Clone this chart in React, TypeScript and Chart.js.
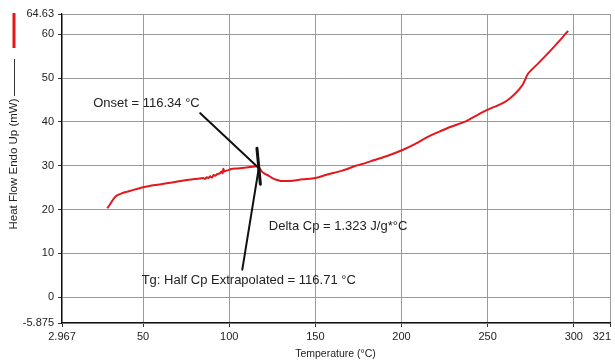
import React, { useEffect, useRef } from "react";
import { Chart, registerables } from "chart.js";

Chart.register(...registerables);

// ---- data ----
const temperature = [
  29.2, 30.5, 31.8, 33.2, 34.7, 37.6, 41, 44.4, 50.2, 57, 63.8, 70, 75.4, 80, 83.2,
  85, 86, 87.1, 88, 89, 90, 91, 92, 93, 94.8, 95.5, 96.2, 96.6, 97.2, 98.3, 99.7,
  101, 105, 110, 114, 116.2, 117.5, 119.1, 121, 123, 125, 127.8, 130, 132.7, 137,
  142.4, 148.2, 152, 156, 161, 165.7, 170, 173.4, 178, 184.1, 192, 200.6, 208,
  215.2, 222, 228.7, 236.5, 240.4, 246, 251, 255, 259.8, 263, 265.6, 268, 270.5,
  272, 273.4, 276, 279.2, 287, 292.8, 296.7,
];
const heatFlow = [
  20.3, 21.0, 21.8, 22.6, 23.2, 23.7, 24.1, 24.5, 25.1, 25.6, 26.0, 26.4, 26.75, 27.0, 27.1,
  27.2, 27.0, 27.4, 27.2, 27.6, 27.3, 27.9, 27.7, 28.1, 28.3, 28.7, 28.3, 29.3, 28.7, 28.9, 29.0,
  29.25, 29.4, 29.6, 29.8, 29.9, 29.5, 28.6, 28.1, 27.7, 27.2, 26.75, 26.55, 26.5, 26.6,
  26.9, 27.1, 27.4, 27.9, 28.4, 28.9, 29.5, 30.0, 30.5, 31.3, 32.3, 33.6, 35.0,
  36.6, 37.8, 38.9, 40.0, 40.8, 42.0, 43.0, 43.6, 44.5, 45.4, 46.3, 47.3, 48.6,
  49.9, 51.0, 52.1, 53.3, 56.5, 59.0, 60.8,
];

const xTickValues = [2.967, 50, 100, 150, 200, 250, 300, 321];
const xTickLabels = ["2.967", "50", "100", "150", "200", "250", "300", "321"];
const yTickValues = [-5.875, 0, 10, 20, 30, 40, 50, 60, 64.63];
const yTickLabels = ["-5.875", "0", "10", "20", "30", "40", "50", "60", "64.63"];

const yTitle = "Heat Flow Endo Up (mW)";
const xTitle = "Temperature (°C)";

const onsetText = "Onset = 116.34 °C";
const deltaCpText = "Delta Cp = 1.323 J/g*°C";
const tgText = "Tg: Half Cp Extrapolated = 116.71 °C";

// annotation anchors in data units [temperature, heatFlow]
const onsetLine = [[83.2, 42.0], [116.8, 29.6]];
const tgLine = [[107.6, 6.3], [117.3, 29.8]];
const stepMark = [[116.1, 34.0], [118.1, 25.8]];
const onsetLabelAt = [21.1, 44.2];
const deltaLabelAt = [123, 16.1];
const tgLabelAt = [49.2, 3.9];

const FONT = "'Liberation Sans', Arial, sans-serif";
const RED = "#e3171c";
const LAST_X = xTickLabels.length - 1;

const overlay = {
  id: "overlay",
  afterDraw(chart: any) {
    const ctx = chart.ctx;
    const xs = chart.scales.x;
    const ys = chart.scales.y;
    const px = (p: number[]) => [xs.getPixelForValue(p[0]), ys.getPixelForValue(p[1])];
    ctx.save();
    ctx.strokeStyle = "#111";
    ctx.lineCap = "round";
    const seg = (a: number[][], w: number) => {
      const p0 = px(a[0]);
      const p1 = px(a[1]);
      ctx.lineWidth = w;
      ctx.beginPath();
      ctx.moveTo(p0[0], p0[1]);
      ctx.lineTo(p1[0], p1[1]);
      ctx.stroke();
    };
    seg(onsetLine, 2);
    seg(tgLine, 2);
    seg(stepMark, 3);

    ctx.fillStyle = "#222";
    ctx.font = `13px ${FONT}`;
    ctx.textBaseline = "middle";
    ctx.textAlign = "left";
    const txt = (s: string, at: number[]) => {
      const p = px(at);
      ctx.fillText(s, p[0], p[1]);
    };
    txt(onsetText, onsetLabelAt);
    txt(deltaCpText, deltaLabelAt);
    txt(tgText, tgLabelAt);

    // last x tick label, right-aligned to the axis end
    ctx.font = `11px ${FONT}`;
    ctx.textAlign = "right";
    ctx.textBaseline = "top";
    ctx.fillText(xTickLabels[LAST_X], xs.getPixelForValue(xTickValues[LAST_X]) + 1, chart.chartArea.bottom + 8);

    // x title
    ctx.font = `10.5px ${FONT}`;
    ctx.textAlign = "center";
    ctx.textBaseline = "middle";
    ctx.fillText(xTitle, (chart.chartArea.left + chart.chartArea.right) / 2 - 0.5, 354);

    // y legend / title on the left
    ctx.strokeStyle = RED;
    ctx.lineWidth = 3;
    ctx.lineCap = "butt";
    ctx.beginPath();
    ctx.moveTo(14, 13);
    ctx.lineTo(14, 48);
    ctx.stroke();
    ctx.strokeStyle = "#333";
    ctx.lineWidth = 1;
    ctx.beginPath();
    ctx.moveTo(14.5, 59);
    ctx.lineTo(14.5, 96);
    ctx.stroke();
    ctx.translate(14, 164);
    ctx.rotate(-Math.PI / 2);
    ctx.font = `11.5px ${FONT}`;
    ctx.fillStyle = "#222";
    ctx.textAlign = "center";
    ctx.fillText(yTitle, 0, 0);
    ctx.restore();
  },
};

export default function App() {
  const ref = useRef<HTMLCanvasElement | null>(null);
  useEffect(() => {
    document.body.style.margin = "0";
    const canvas = ref.current;
    if (!canvas) return;
    const chart = new Chart(canvas, {
      type: "line",
      data: {
        datasets: [
          {
            label: yTitle,
            data: temperature.map((t, i) => ({ x: t, y: heatFlow[i] })),
            borderColor: RED,
            borderWidth: 2,
            pointRadius: 0,
            tension: 0.2,
            fill: false,
          },
        ],
      },
      options: {
        responsive: false,
        animation: false,
        events: [],
        layout: { padding: { left: 0, right: 5, top: 14, bottom: 0 } },
        plugins: { legend: { display: false }, tooltip: { enabled: false } },
        scales: {
          x: {
            type: "linear",
            min: 2.967,
            max: 321,
            afterBuildTicks: (s: any) => {
              s.ticks = xTickValues.map((v) => ({ value: v }));
            },
            afterFit: (s: any) => {
              s.height = 40;
              s.paddingLeft = 0;
              s.paddingRight = 0;
            },
            ticks: {
              callback: (_v: any, i: number) => (i === LAST_X ? "" : xTickLabels[i]),
              autoSkip: false,
              maxRotation: 0,
              padding: 3,
              color: "#222",
              font: { family: FONT, size: 11 },
            },
            grid: { color: "#9a9a9a", tickColor: "#333", tickLength: 4, lineWidth: 1 },
            border: { color: "#111", width: 1.2 },
          },
          y: {
            type: "linear",
            min: -5.875,
            max: 64.63,
            afterBuildTicks: (s: any) => {
              s.ticks = yTickValues.map((v) => ({ value: v }));
            },
            afterFit: (s: any) => {
              s.width = 62;
              s.paddingTop = 0;
              s.paddingBottom = 0;
            },
            ticks: {
              callback: (_v: any, i: number) => yTickLabels[i],
              autoSkip: false,
              padding: 4,
              color: "#222",
              font: { family: FONT, size: 11 },
            },
            grid: { color: "#9a9a9a", tickColor: "#333", tickLength: 4, lineWidth: 1 },
            border: { color: "#111", width: 1.2 },
          },
        },
      },
      plugins: [overlay],
    });
    return () => chart.destroy();
  }, []);
  return <canvas ref={ref} width={615} height={363} style={{ display: "block", width: 615, height: 363 }} />;
}
